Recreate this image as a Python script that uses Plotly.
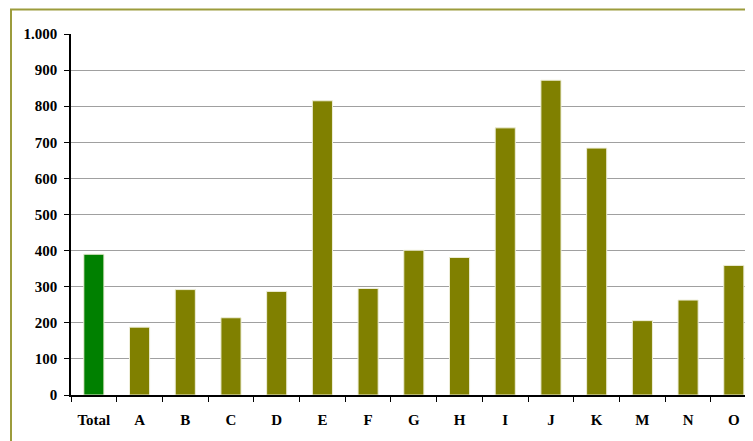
import plotly.graph_objects as go

categories = ["Total", "A", "B", "C", "D", "E", "F", "G", "H", "I", "J", "K", "M", "N", "O"]
values = [390, 188, 292, 214, 287, 815, 295, 401, 381, 740, 872, 684, 206, 263, 359]
colors = ["#008000"] + ["#808000"] * (len(categories) - 1)
y_ticks = [0, 100, 200, 300, 400, 500, 600, 700, 800, 900, 1000]

fig = go.Figure()
fig.add_trace(go.Bar(
    x=categories, y=values, width=0.44,
    marker=dict(color=colors, line=dict(color="#EEEED8", width=1)),
))

tick_font = dict(family="Liberation Serif", size=15, color="black", weight="bold")

fig.update_layout(
    width=745, height=433,
    margin=dict(l=63, r=0, t=26, b=46),
    paper_bgcolor="white", plot_bgcolor="white",
    separators=",.",
    showlegend=False,
    shapes=[dict(type="rect", xref="paper", yref="paper",
                 x0=-60 / 682, x1=1.2, y0=-1.0, y1=(395 - 9.5) / 361,
                 line=dict(color="#9C9C3C", width=2), fillcolor="rgba(0,0,0,0)", layer="below")],
    xaxis=dict(
        type="category", range=[-0.5, 14.42],
        showline=True, linecolor="black", linewidth=1.5,
        ticks="outside", ticklen=5, tickcolor="black", tickson="boundaries",
        showgrid=False,
        tickfont=tick_font,
        ticklabelstandoff=10,
    ),
    yaxis=dict(
        range=[0, 1000], tickvals=y_ticks, separatethousands=True,
        showline=True, linecolor="black", linewidth=1.5,
        ticks="outside", ticklen=5, tickcolor="black",
        showgrid=True, gridcolor="#A0A0A0", gridwidth=1,
        zeroline=False,
        tickfont=tick_font,
        ticklabelstandoff=4,
    ),
)

fig.write_html("out.html")
